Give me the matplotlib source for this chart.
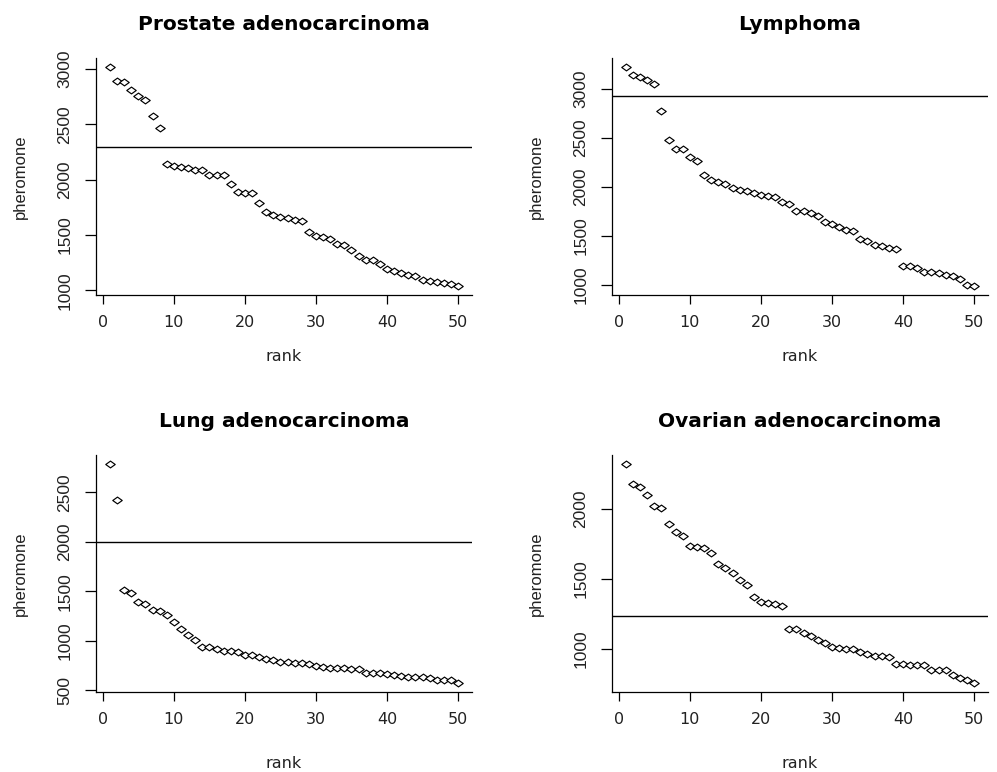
"""
Four rank plots of pheromone values with a threshold line, R base-graphics look.
"""
import numpy as np
import matplotlib
matplotlib.use("Agg")
import matplotlib.pyplot as plt
from matplotlib.path import Path

titles = ["Prostate adenocarcinoma", "Lymphoma",
          "Lung adenocarcinoma", "Ovarian adenocarcinoma"]

prostate = [3021, 2893, 2886, 2814, 2760, 2721, 2574, 2472, 2140, 2121,
            2112, 2110, 2092, 2090, 2040, 2040, 2040, 1965, 1893, 1884,
            1884, 1788, 1708, 1682, 1664, 1656, 1638, 1623, 1531, 1492,
            1483, 1462, 1420, 1408, 1369, 1313, 1276, 1274, 1235, 1194,
            1172, 1160, 1140, 1131, 1098, 1089, 1074, 1068, 1056, 1038]
lymphoma = [3229, 3148, 3121, 3094, 3051, 2781, 2484, 2390, 2383, 2309,
            2268, 2117, 2073, 2046, 2032, 1992, 1968, 1955, 1938, 1921,
            1907, 1894, 1847, 1826, 1755, 1755, 1732, 1698, 1641, 1617,
            1590, 1560, 1546, 1466, 1448, 1405, 1395, 1370, 1368, 1195,
            1192, 1172, 1125, 1125, 1114, 1101, 1091, 1057, 996, 983]
lung = [2789, 2419, 1511, 1481, 1394, 1371, 1311, 1305, 1258, 1192,
        1122, 1055, 1009, 937, 936, 919, 902, 900, 892, 856,
        856, 832, 819, 810, 787, 786, 779, 772, 769, 745,
        732, 730, 729, 722, 712, 712, 679, 679, 679, 662,
        656, 642, 639, 632, 632, 622, 609, 605, 602, 572]
ovarian = [2322, 2176, 2153, 2101, 2021, 2009, 1889, 1833, 1805, 1734,
           1727, 1718, 1685, 1605, 1576, 1541, 1489, 1456, 1369, 1335,
           1327, 1320, 1308, 1139, 1139, 1115, 1089, 1059, 1043, 1014,
           1005, 1000, 995, 976, 960, 948, 948, 941, 894, 894,
           886, 886, 885, 849, 848, 848, 814, 788, 774, 753]
series = [prostate, lymphoma, lung, ovarian]
thresholds = [2300, 2930, 2000, 1235]

yticks = [[1000, 1500, 2000, 2500, 3000],
          [1000, 1500, 2000, 2500, 3000],
          [500, 1000, 1500, 2000, 2500],
          [1000, 1500, 2000]]
xticks = [0, 10, 20, 30, 40, 50]

W, H = 997, 772
# axes boxes in pixels: left, top, right, bottom
boxes = [(96, 58, 472, 295), (612, 58, 988, 295),
         (96, 455, 472, 692), (612, 455, 988, 692)]

diamond = Path([(-1, 0), (0, 0.72), (1, 0), (0, -0.72), (-1, 0)],
               [Path.MOVETO, Path.LINETO, Path.LINETO, Path.LINETO,
                Path.CLOSEPOLY])

fig = plt.figure(figsize=(W / 100, H / 100), dpi=100)

for i, (vals, title, thr, yt) in enumerate(zip(series, titles, thresholds, yticks)):
    l, t, r, b = boxes[i]
    ax = fig.add_axes([l / W, 1 - b / H, (r - l) / W, (b - t) / H])
    y = np.array(vals, dtype=float)
    rank = np.arange(1, len(y) + 1)

    ax.plot(rank, y, linestyle="none", marker=diamond, markersize=6.8,
            markerfacecolor="white", markeredgecolor="black",
            markeredgewidth=0.85)
    ax.axhline(thr, color="black", linewidth=1.0)

    rng = y.max() - y.min()
    ax.set_ylim(y.min() - 0.04 * rng, y.max() + 0.04 * rng)
    ax.set_xlim(1 - 0.04 * 49, 50 + 0.04 * 49)

    for side in ["top", "right"]:
        ax.spines[side].set_visible(False)
    for side in ["left", "bottom"]:
        ax.spines[side].set_linewidth(0.9)

    ax.set_xticks(xticks)
    ax.set_xticklabels([str(v) for v in xticks], family="DejaVu Sans",
                       fontsize=11.5, color="#222222")
    ax.set_yticks(yt)
    ax.set_yticklabels([str(v) for v in yt], rotation=90, va="center",
                       family=["Liberation Sans Narrow", "Liberation Sans"],
                       fontsize=12.5, color="#222222")
    ax.tick_params(axis="x", direction="out", length=6.5, width=0.9, pad=8)
    ax.tick_params(axis="y", direction="out", length=8, width=0.9, pad=9)

    ax.set_title(title, family="DejaVu Sans", fontweight="bold",
                 fontsize=14.5, pad=20)
    ax.set_xlabel("rank", family="DejaVu Sans", fontsize=11.5, color="#222222")
    ax.set_ylabel("pheromone", family="Liberation Sans", fontsize=12,
                  color="#222222")
    ax.yaxis.label.set_va("center")
    ax.xaxis.label.set_va("center")
    ax.yaxis.set_label_coords(-76 / (r - l), 0.5)
    ax.xaxis.set_label_coords(0.5, -0.258 if i < 2 else -0.30)

fig.savefig("out.png", dpi=100)
